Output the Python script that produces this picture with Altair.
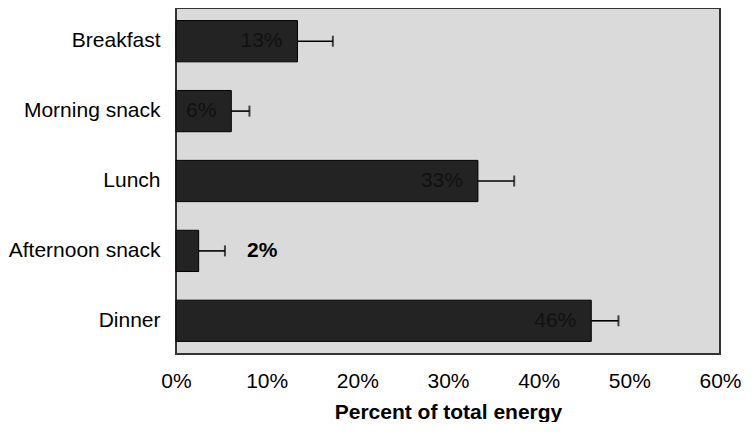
import altair as alt
import pandas as pd

meals = ["Breakfast", "Morning snack", "Lunch", "Afternoon snack", "Dinner"]
values = [0.134, 0.061, 0.333, 0.025, 0.458]
upper = [0.173, 0.081, 0.373, 0.054, 0.488]
labels = ["13%", "6%", "33%", "2%", "46%"]

df = pd.DataFrame({"meal": meals, "value": values, "upper": upper, "label": labels})
df["inside"] = df["value"] > 0.05

FONT = "Liberation Sans"
FS = 21

y = alt.Y("meal:N", sort=meals, title=None,
          scale=alt.Scale(paddingInner=0.41, paddingOuter=0.18),
          axis=alt.Axis(ticks=False, domain=False, labelFontSize=FS, labelFont=FONT,
                        labelColor="#000", labelPadding=16, labelLimit=400))
x = alt.X("value:Q", title="Percent of total energy",
          scale=alt.Scale(domain=[0, 0.6], nice=False),
          axis=alt.Axis(format=".0%", values=[0, 0.1, 0.2, 0.3, 0.4, 0.5, 0.6],
                        ticks=False, domain=False, grid=False, labelFlush=False,
                        labelFontSize=FS, labelFont=FONT, labelColor="#000",
                        labelPadding=16, titleFontSize=FS, titleFont=FONT,
                        titleFontWeight="bold", titleColor="#000", titlePadding=10))

base = alt.Chart(df)

bars = base.mark_bar(color="#232323", stroke="#000", strokeWidth=1).encode(y=y, x=x)
err = base.mark_rule(color="#000", strokeWidth=1.6).encode(
    y=alt.Y("meal:N", sort=meals), x="value:Q", x2="upper:Q")
caps = base.mark_tick(color="#000", thickness=2, size=11, orient="vertical").encode(
    y=alt.Y("meal:N", sort=meals), x="upper:Q")
txt_in = base.transform_filter("datum.inside").mark_text(
    align="right", dx=-15, fontSize=FS, font=FONT, color="#111").encode(
    y=alt.Y("meal:N", sort=meals), x="value:Q", text="label:N")
txt_out = base.transform_filter("!datum.inside").mark_text(
    align="left", dx=22, fontSize=FS, font=FONT, fontWeight="bold", color="#000").encode(
    y=alt.Y("meal:N", sort=meals), x="upper:Q", text="label:N")

chart = alt.layer(bars, err, caps, txt_in, txt_out).properties(
    width=544, height=346, background="white",
    padding={"left": 0, "top": 0, "right": 0, "bottom": 0}
).configure_view(fill="#dadada", stroke="#333333", strokeWidth=2)

chart.save("out.html", embed_options={"renderer": "svg", "actions": False})
